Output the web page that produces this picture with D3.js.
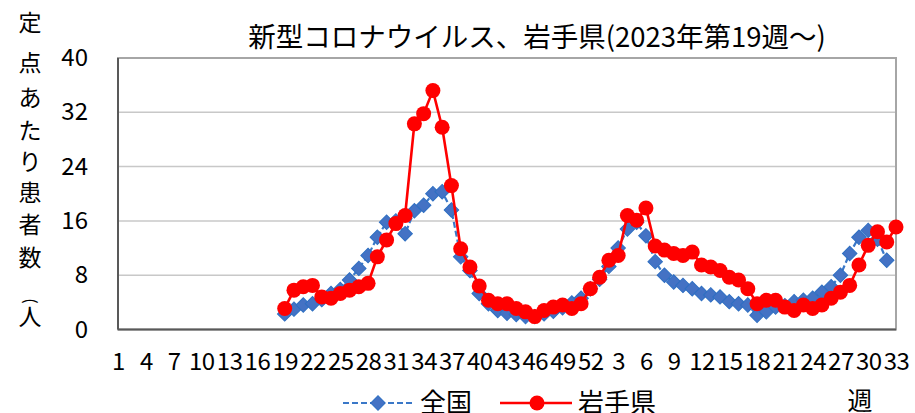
<!DOCTYPE html>
<html><head><meta charset="utf-8">
<script src="https://cdn.jsdelivr.net/npm/d3@7"></script>
<style>html,body{margin:0;padding:0;background:#fff;} svg{display:block}</style>
</head><body>
<svg id="c" width="915" height="413"></svg>
<script>
// ---- data ----
const weeks2023 = d3.range(1, 53);      // category labels, 2023 weeks 1..52
const weeks2024 = d3.range(1, 34);      // category labels, 2024 weeks 1..33
const startWeek2023 = 19;               // both series start at 2023 week 19
const seriesNames = ["全国", "岩手県"];
// 全国 : 2023 w19 .. 2024 w32
const national = [
  2.3, 3.0, 3.6, 3.8, 4.4, 5.3, 5.9, 7.3, 9.0, 10.9, 13.6, 15.8, 16.0, 14.1,
  17.5, 18.3, 20.0, 20.3, 17.6, 10.7, 8.7, 5.3, 3.8, 2.8, 2.4, 2.2, 1.9, 1.9,
  2.3, 2.7, 3.2, 3.9, 4.6, 6.0,
  7.4, 9.3, 12.0, 14.8, 15.8, 13.8, 10.0, 8.0, 7.0, 6.5, 6.0, 5.3, 5.1, 4.8,
  4.1, 3.8, 3.6, 2.1, 2.6, 3.3, 3.5, 4.1, 4.3, 4.6, 5.5, 6.3, 8.0, 11.2,
  13.6, 14.6, 13.3, 10.2
];
// 岩手県 : 2023 w19 .. 2024 w33
const iwate = [
  3.1, 5.8, 6.3, 6.5, 4.8, 4.6, 5.3, 5.8, 6.3, 6.8, 10.7, 13.2, 15.6, 16.8,
  30.3, 31.8, 35.2, 29.8, 21.2, 11.9, 9.2, 6.4, 4.3, 3.8, 3.8, 3.1, 2.6, 1.9,
  2.8, 3.3, 3.6, 3.1, 3.8, 6.0,
  7.7, 10.2, 10.9, 16.8, 16.1, 17.9, 12.3, 11.7, 11.2, 10.9, 11.4, 9.5, 9.2, 8.7,
  7.7, 7.3, 6.0, 3.8, 4.3, 4.3, 3.3, 2.8, 3.6, 3.1, 3.6, 4.6, 5.5, 6.5,
  9.5, 12.4, 14.4, 12.9, 15.1
];
const yTicks = [0, 8, 16, 24, 32, 40];
const title = "新型コロナウイルス、岩手県(2023年第19週～)";
const yTitleChars = ["定", "点", "あ", "た", "り", "患", "者", "数"];
const yUnit = "人";
const xTitle = "週";

// ---- build ----
const labels = weeks2023.concat(weeks2024);
const idx = labels.map((d, i) => i);
const start = startWeek2023 - 1;
const natData = national.map((v, i) => ({ i: start + i, v }));
const iwaData = iwate.map((v, i) => ({ i: start + i, v }));

const L = 118, R = 896, T = 58, B = 329.5;
const svg = d3.select("#c");
const font = "'Noto Sans CJK JP', 'Liberation Sans', sans-serif";
const x = d3.scalePoint().domain(idx).range([L, R]);
const y = d3.scaleLinear().domain([0, 40]).range([B, T]);

// gridlines
svg.append("g").selectAll("line").data(yTicks.filter(d => d > 0 && d < 40)).join("line")
  .attr("x1", L).attr("x2", R).attr("y1", d => y(d)).attr("y2", d => y(d))
  .attr("stroke", "#c8c8c8").attr("stroke-width", 1.5);

// plot border
svg.append("rect").attr("x", L).attr("y", T).attr("width", R - L).attr("height", B - T)
  .attr("fill", "none").attr("stroke", "#a6a6a6").attr("stroke-width", 2);
svg.append("line").attr("x1", L).attr("x2", L).attr("y1", T).attr("y2", B)
  .attr("stroke", "#595959").attr("stroke-width", 2);
svg.append("line").attr("x1", L).attr("x2", R).attr("y1", B).attr("y2", B)
  .attr("stroke", "#595959").attr("stroke-width", 2);

// y axis
const ya = svg.append("g").attr("transform", `translate(${L},0)`)
  .call(d3.axisLeft(y).tickValues(yTicks).tickSize(0).tickPadding(30));
ya.select(".domain").remove();
ya.selectAll("text").attr("font-family", font).attr("font-size", 24).attr("fill", "#000");

// x axis
const xa = svg.append("g").attr("transform", `translate(0,${B})`)
  .call(d3.axisBottom(x).tickValues(idx.filter(i => i % 3 === 0))
    .tickFormat(i => labels[i]).tickSize(0).tickPadding(23));
xa.select(".domain").remove();
xa.selectAll("text").attr("font-family", font).attr("font-size", 24).attr("fill", "#000")
  .attr("letter-spacing", -0.5);

// series: national (blue dashed + diamonds)
const line = d3.line().x(d => x(d.i)).y(d => y(d.v));
svg.append("path").datum(natData).attr("d", line)
  .attr("fill", "none").attr("stroke", "#3a78c8").attr("stroke-width", 2.2)
  .attr("stroke-dasharray", "6,3");
const diamond = d3.symbol(d3.symbolSquare, 105);
svg.append("g").selectAll("path").data(natData).join("path")
  .attr("d", diamond)
  .attr("transform", d => `translate(${x(d.i)},${y(d.v)}) rotate(45)`)
  .attr("fill", "#4472c4").attr("stroke", "#2e6fc2").attr("stroke-width", 1);

// series: Iwate (red)
svg.append("path").datum(iwaData).attr("d", line)
  .attr("fill", "none").attr("stroke", "#ff0000").attr("stroke-width", 2.6);
svg.append("g").selectAll("circle").data(iwaData).join("circle")
  .attr("cx", d => x(d.i)).attr("cy", d => y(d.v)).attr("r", 7.5)
  .attr("fill", "#ff0000");

// title
svg.append("text").attr("x", 537).attr("y", 47).attr("text-anchor", "middle")
  .attr("font-family", font).attr("font-size", 27.5).attr("fill", "#000").text(title);

// y title, vertical
const yPos = [22, 62, 97, 130, 161, 192, 224, 257];
svg.append("g").selectAll("text").data(yTitleChars).join("text")
  .attr("x", 30).attr("y", (d, i) => yPos[i] + 9).attr("text-anchor", "middle")
  .attr("font-family", font).attr("font-size", 23).attr("fill", "#000").text(d => d);
svg.append("text").attr("transform", "translate(31,301) rotate(90)")
  .attr("text-anchor", "middle").attr("dy", "0.35em")
  .attr("font-family", font).attr("font-size", 16).attr("fill", "#000").text("(");
svg.append("text").attr("x", 30).attr("y", 325).attr("text-anchor", "middle")
  .attr("font-family", font).attr("font-size", 23).attr("fill", "#000").text(yUnit);

// x title
svg.append("text").attr("x", 860).attr("y", 410).attr("text-anchor", "middle")
  .attr("font-family", font).attr("font-size", 25).attr("fill", "#000").text(xTitle);

// legend
const lg = svg.append("g");
const ly = 403;
lg.append("line").attr("x1", 343).attr("x2", 413).attr("y1", ly).attr("y2", ly)
  .attr("stroke", "#3a78c8").attr("stroke-width", 2.2).attr("stroke-dasharray", "6,3");
lg.append("path").attr("d", diamond).attr("transform", `translate(378,${ly}) rotate(45)`)
  .attr("fill", "#4472c4").attr("stroke", "#2e6fc2");
lg.append("text").attr("x", 420).attr("y", ly + 9).attr("font-family", font)
  .attr("font-size", 26).attr("fill", "#000").text(seriesNames[0]);
lg.append("line").attr("x1", 500).attr("x2", 572).attr("y1", ly).attr("y2", ly)
  .attr("stroke", "#ff0000").attr("stroke-width", 2.6);
lg.append("circle").attr("cx", 537).attr("cy", ly).attr("r", 7.5).attr("fill", "#ff0000");
lg.append("text").attr("x", 578).attr("y", ly + 9).attr("font-family", font)
  .attr("font-size", 26).attr("fill", "#000").text(seriesNames[1]);
</script>
</body></html>
